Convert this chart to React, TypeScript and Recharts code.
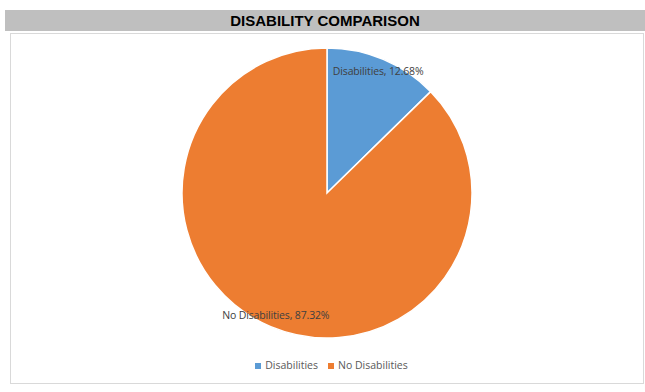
import { PieChart, Pie, Cell, Legend } from 'recharts'

const categories = ['Disabilities', 'No Disabilities']
const shares = [12.68, 87.32]
const COLORS = ['#5B9BD5', '#ED7D31']

const data = categories.map((name, i) => ({ name, value: shares[i] }))

const RAD = Math.PI / 180

const renderLabel = (props: any) => {
  const { cx, cy, midAngle, outerRadius, name, value } = props
  const r = outerRadius * 0.91
  const x = cx + r * Math.cos(-midAngle * RAD)
  const y = cy + r * Math.sin(-midAngle * RAD)
  return (
    <text x={x} y={y} fill="#404040" fontSize={10.5} textAnchor="middle" dominantBaseline="central"
      fontFamily="'Open Sans', 'Liberation Sans', sans-serif" letterSpacing={-0.15}>
      {`${name}, ${value.toFixed(2)}%`}
    </text>
  )
}

export default function App() {
  return (
    <div style={{ position: 'fixed', top: 0, left: 0, width: 645, height: 392, background: '#fff' }}>
      <div style={{
        position: 'absolute', left: 5, top: 10, width: 640, height: 21, background: '#BFBFBF',
        textAlign: 'center', lineHeight: '22px', fontWeight: 'bold', fontSize: 15,
        fontFamily: "'Liberation Sans Narrow', 'Liberation Sans', Arial, sans-serif", color: '#000'
      }}>
        DISABILITY COMPARISON
      </div>
      <div style={{
        position: 'absolute', left: 10, top: 33, width: 632, height: 349,
        border: '1px solid #D9D9D9', boxSizing: 'content-box'
      }} />
      <div style={{ position: 'absolute', left: 0, top: 0 }}>
        <PieChart width={645} height={392} margin={{ top: 0, right: 0, bottom: 0, left: 0 }}>
          <Pie
            data={data}
            dataKey="value"
            nameKey="name"
            cx={327}
            cy={193}
            outerRadius={145}
            startAngle={90}
            endAngle={-270}
            stroke="#fff"
            strokeWidth={1.5}
            label={renderLabel}
            labelLine={false}
            isAnimationActive={false}
          >
            {data.map((_, i) => (
              <Cell key={`cell-${i}`} fill={COLORS[i]} />
            ))}
          </Pie>
          <Legend
            iconType="square"
            iconSize={6}
            wrapperStyle={{ top: 358, left: 14, width: 645, fontSize: 10.5, fontFamily: "'Open Sans', 'Liberation Sans', sans-serif" }}
            formatter={(v: string) => <span style={{ color: '#595959' }}>{v}</span>}
          />
        </PieChart>
      </div>
    </div>
  )
}
